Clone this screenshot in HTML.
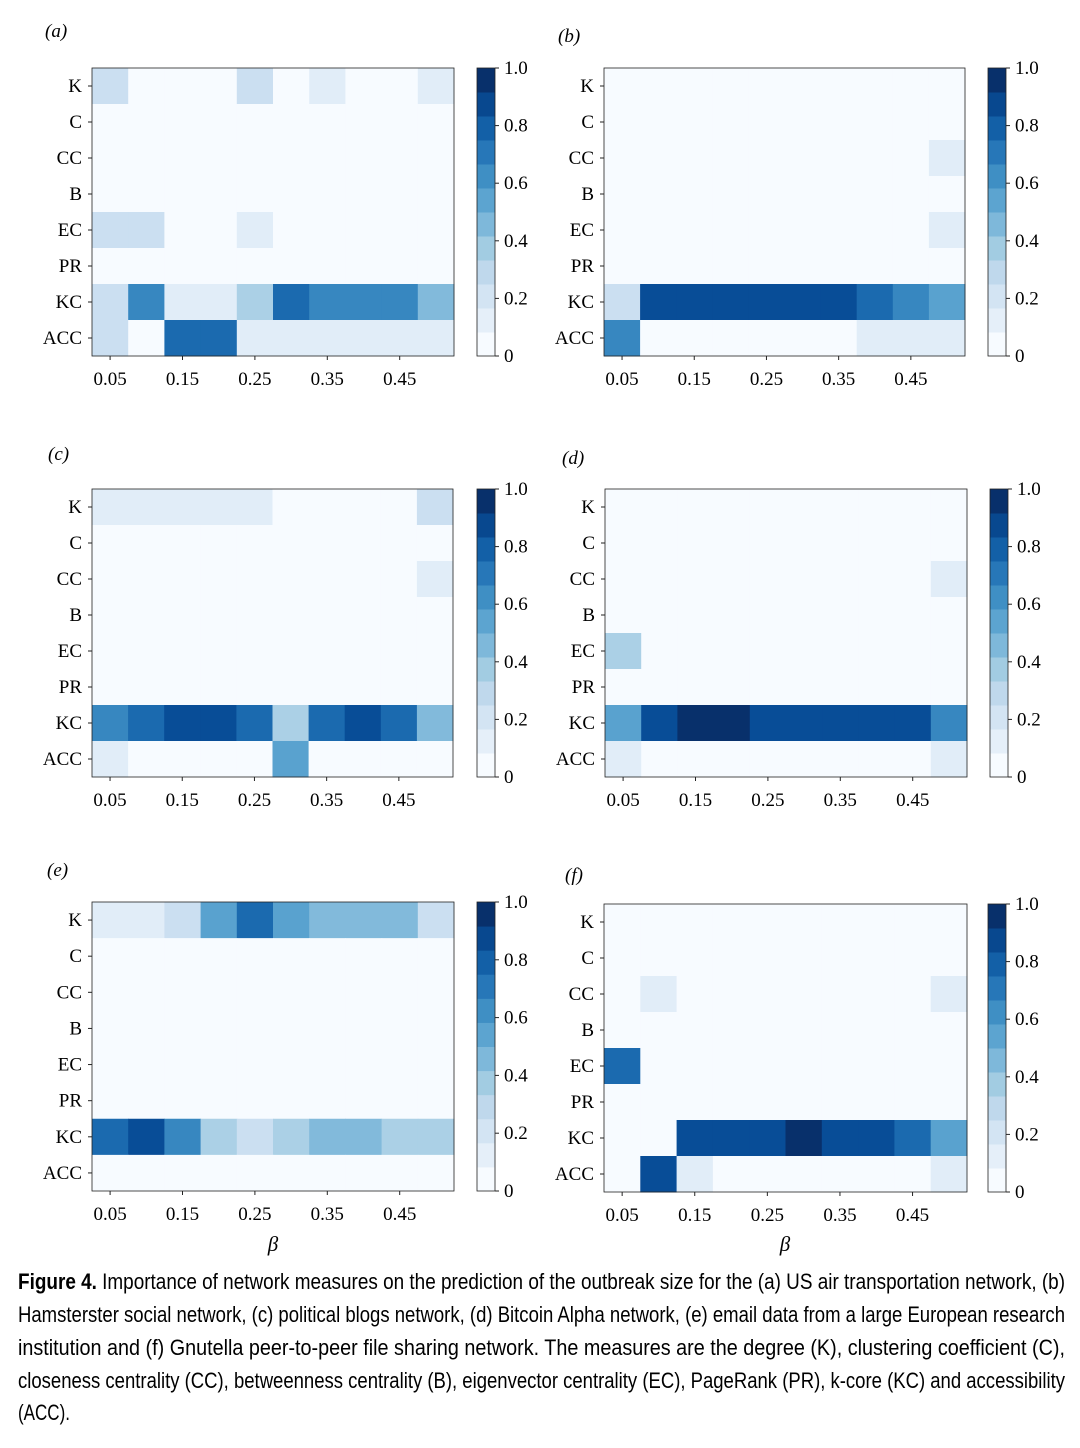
<!DOCTYPE html>
<html><head><meta charset="utf-8"><style>
body{margin:0;background:#fff}
svg text{font-family:"Liberation Serif",serif}
</style></head><body>
<svg id="fig" width="1080" height="1443" xmlns="http://www.w3.org/2000/svg"></svg>
<script>
const rows=["K","C","CC","B","EC","PR","KC","ACC"];
const betas=["0.05","0.10","0.15","0.20","0.25","0.30","0.35","0.40","0.45","0.50"];
const xTickLabels=["0.05","0.15","0.25","0.35","0.45"];
const cbTicks=[0,0.2,0.4,0.6,0.8,1.0];
const cbTickLabels=["0","0.2","0.4","0.6","0.8","1.0"];
const z=[0,0,0,0,0,0,0,0,0,0];
const dataA=[[0.2,0,0,0,0.2,0,0.1,0,0,0.1],z,z,z,[0.2,0.2,0,0,0.1,0,0,0,0,0],z,
[0.25,0.65,0.1,0.1,0.35,0.75,0.6,0.6,0.6,0.45],[0.25,0,0.75,0.75,0.15,0.15,0.15,0.15,0.15,0.15]];
const dataB=[z,z,[0,0,0,0,0,0,0,0,0,0.1],z,[0,0,0,0,0,0,0,0,0,0.1],z,
[0.2,0.85,0.85,0.85,0.85,0.85,0.85,0.75,0.65,0.55],[0.6,0,0,0,0,0,0,0.15,0.15,0.15]];
const dataC=[[0.1,0.1,0.1,0.1,0.1,0,0,0,0,0.2],z,[0,0,0,0,0,0,0,0,0,0.1],z,z,z,
[0.6,0.75,0.85,0.85,0.75,0.35,0.75,0.85,0.75,0.45],[0.1,0,0,0,0,0.55,0,0,0,0]];
const dataD=[z,z,[0,0,0,0,0,0,0,0,0,0.1],z,[0.35,0,0,0,0,0,0,0,0,0],z,
[0.55,0.85,0.95,0.95,0.85,0.85,0.85,0.85,0.85,0.65],[0.1,0,0,0,0,0,0,0,0,0.1]];
const dataE=[[0.1,0.1,0.2,0.55,0.75,0.55,0.45,0.45,0.45,0.2],z,z,z,z,z,
[0.75,0.85,0.65,0.35,0.2,0.35,0.45,0.45,0.35,0.35],z];
const dataF=[z,z,[0,0.1,0,0,0,0,0,0,0,0.1],z,[0.75,0,0,0,0,0,0,0,0,0],z,
[0,0,0.85,0.85,0.85,0.95,0.85,0.85,0.75,0.55],[0,0.85,0.1,0,0,0,0,0,0,0.1]];
const panels=[
{id:"a",d:dataA,x:92,y:68,w:362,h:288,cb:477,lx:45,ly:37},
{id:"b",d:dataB,x:604,y:68,w:361,h:288,cb:988,lx:558,ly:42},
{id:"c",d:dataC,x:92,y:489,w:361,h:288,cb:477,lx:48,ly:460},
{id:"d",d:dataD,x:605,y:489,w:362,h:288,cb:990,lx:562,ly:464},
{id:"e",d:dataE,x:92,y:902,w:362,h:289,cb:477,lx:47,ly:876},
{id:"f",d:dataF,x:604,y:904,w:363,h:288,cb:988,lx:565,ly:881}];
const stops=["#f7fbff","#deebf7","#c6dbef","#9ecae1","#6baed6","#4292c6","#2171b5","#08519c","#08306b"];
function hex(c){return [1,3,5].map(i=>parseInt(c.substr(i,2),16));}
function blues(v){v=Math.max(0,Math.min(1,v));const t=v*8,i=Math.min(7,Math.floor(t)),f=t-i;
const a=hex(stops[i]),b=hex(stops[i+1]);return "rgb("+a.map((x,k)=>Math.round(x+(b[k]-x)*f)).join(",")+")";}
function q(v){const n=10;const b=Math.min(n-1,Math.floor(v*n+1e-9));return blues(b/(n-1));}
const svg=document.getElementById("fig");const NS="http://www.w3.org/2000/svg";
function mk(t,at,txt){const e=document.createElementNS(NS,t);for(const k in at)e.setAttribute(k,at[k]);if(txt!==undefined)e.textContent=txt;svg.appendChild(e);return e;}
panels.forEach(p=>{
 const cw=p.w/betas.length,rh=p.h/rows.length;
 const xs=i=>p.x+i*cw, ys=j=>p.y+j*rh;
 let l=mk("text",{x:p.lx,y:p.ly,"font-size":19,"font-style":"italic"},"("+p.id+")");
 
 
 p.d.forEach((row,j)=>row.forEach((v,i)=>{
  const r=mk("rect",{x:xs(i),y:ys(j),width:cw+0.5,height:rh+0.5,fill:q(v)});
  
  
 }));
 let fr=mk("rect",{x:p.x,y:p.y,width:p.w,height:p.h,fill:"none",stroke:"#222","stroke-width":0.8});
 
 
 rows.forEach((r,j)=>{
  const cy=ys(j)+rh/2;
  mk("line",{x1:p.x-4,x2:p.x,y1:cy,y2:cy,stroke:"#222"});
  let t=mk("text",{x:p.x-10,y:cy+6,"font-size":19,"text-anchor":"end"},r);
  
  
 });
 xTickLabels.forEach(s=>{
  const i=betas.indexOf(s);const cx=xs(i)+cw/2;
  mk("line",{x1:cx,x2:cx,y1:p.y+p.h,y2:p.y+p.h+4,stroke:"#222"});
  let t=mk("text",{x:cx,y:p.y+p.h+29,"font-size":19,"text-anchor":"middle"},s);
  
  
 });
 const n=12,bh=p.h/n;
 for(let k=0;k<n;k++){
  const r=mk("rect",{x:p.cb,y:p.y+p.h-(k+1)*bh,width:18,height:bh+0.5,fill:blues(k/(n-1))});
  
  
 }
 let cbf=mk("rect",{x:p.cb,y:p.y,width:18,height:p.h,fill:"none",stroke:"#222","stroke-width":0.8});
 
 
 cbTicks.forEach((v,k)=>{
  const cy=p.y+p.h-v*p.h;
  mk("line",{x1:p.cb+18,x2:p.cb+22,y1:cy,y2:cy,stroke:"#222"});
  let t=mk("text",{x:p.cb+27,y:cy+6,"font-size":19},cbTickLabels[k]);
  
  
 });
});
[[273],[785]].forEach(([x])=>{let t=mk("text",{x:x,y:1251,"font-size":21,"font-style":"italic","text-anchor":"middle"},"β");

});
const cap=[
["Figure 4.","Importance of network measures on the prediction of the outbreak size for the (a) US air transportation network, (b)"],
["","Hamsterster social network, (c) political blogs network, (d) Bitcoin Alpha network, (e) email data from a large European research"],
["","institution and (f) Gnutella peer-to-peer file sharing network. The measures are the degree (K), clustering coefficient (C),"],
["","closeness centrality (CC), betweenness centrality (B), eigenvector centrality (EC), PageRank (PR), k-core (KC) and accessibility"],
["","(ACC)."]];
const capY=[1289,1322,1355,1388,1420];
cap.forEach((c,i)=>{
 const full=i<4;
 const t=mk("text",{x:18,y:capY[i],"font-size":22,style:"font-family:'Liberation Sans',sans-serif"});
 if(full){t.setAttribute("textLength",1047);t.setAttribute("lengthAdjust","spacingAndGlyphs");}
 else{t.setAttribute("textLength",52);t.setAttribute("lengthAdjust","spacingAndGlyphs");}
 
 
 if(c[0]){const b=document.createElementNS(NS,"tspan");b.setAttribute("font-weight","bold");b.textContent=c[0]+" ";t.appendChild(b);}
 t.appendChild(document.createTextNode(c[1]));
});
</script>
</body></html>
